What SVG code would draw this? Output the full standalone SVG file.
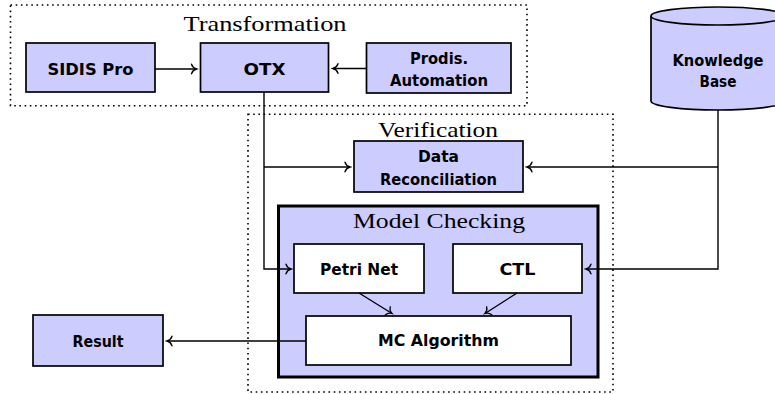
<svg xmlns="http://www.w3.org/2000/svg" width="775" height="394" viewBox="0 0 775 394">
<defs>
<style>
.grp{fill:none;stroke:#000;stroke-width:1.6;stroke-dasharray:1.6 3.6}
.node{fill:#ccccff;stroke:#000;stroke-width:1.7}
.inner{fill:#ffffff;stroke:#000;stroke-width:1.7}
.mc{fill:#ccccff;stroke:#000;stroke-width:3}
.lbl{font-family:"DejaVu Sans",sans-serif;font-weight:bold;font-size:16px;fill:#000;text-anchor:middle}
.ttl{font-family:"Liberation Serif","Times New Roman",serif;font-size:22px;fill:#000;text-anchor:middle}
.edge{fill:none;stroke:#000;stroke-width:1.4}
</style>
<marker id="arr" viewBox="-7 -6 9 12" refX="0" refY="0" markerWidth="9" markerHeight="12" markerUnits="userSpaceOnUse" orient="auto">
<path d="M -5 -4.8 C -4 -1.8 -1.5 -0.4 0 0 C -1.5 0.4 -4 1.8 -5 4.8" fill="none" stroke="#000" stroke-width="1.3" stroke-linecap="round"/>
</marker>
</defs>
<rect width="775" height="394" fill="#ffffff"/>

<g id="transformation">
<rect class="grp" x="10.5" y="5" width="516.5" height="100.7"/>
<text class="ttl" x="265" y="30.5" textLength="163" lengthAdjust="spacingAndGlyphs">Transformation</text>
</g>

<g id="verification">
<rect class="grp" x="248" y="114.3" width="365" height="277.7"/>
<text class="ttl" x="438" y="137" textLength="120" lengthAdjust="spacingAndGlyphs">Verification</text>
</g>

<g id="sidis">
<rect class="node" x="26" y="43" width="129" height="49"/>
<text class="lbl" x="90.5" y="75" textLength="86" lengthAdjust="spacingAndGlyphs">SIDIS Pro</text>
</g>

<g id="otx">
<rect class="node" x="200.5" y="43" width="128" height="49"/>
<text class="lbl" x="264.5" y="75" textLength="42" lengthAdjust="spacingAndGlyphs">OTX</text>
</g>

<g id="prodis">
<rect class="node" x="366.5" y="43" width="144.5" height="50"/>
<text class="lbl" x="439" y="63.5" textLength="58" lengthAdjust="spacingAndGlyphs">Prodis.</text>
<text class="lbl" x="439" y="85.5" textLength="98" lengthAdjust="spacingAndGlyphs">Automation</text>
</g>

<g id="knowledge">
<path class="node" d="M 651 16 L 651 101 A 67 9 0 0 0 785 101 L 785 16 A 67 9 0 0 0 651 16 Z"/>
<path d="M 651 16 A 67 9 0 0 0 785 16" fill="none" stroke="#000" stroke-width="1.7"/>
<text class="lbl" x="718" y="65.5" textLength="91" lengthAdjust="spacingAndGlyphs">Knowledge</text>
<text class="lbl" x="718" y="86.5" textLength="37" lengthAdjust="spacingAndGlyphs">Base</text>
</g>

<g id="datarec">
<rect class="node" x="354" y="141" width="169" height="51"/>
<text class="lbl" x="438.5" y="162" textLength="41" lengthAdjust="spacingAndGlyphs">Data</text>
<text class="lbl" x="438.5" y="184.5" textLength="117" lengthAdjust="spacingAndGlyphs">Reconciliation</text>
</g>

<g id="modelchecking">
<rect class="mc" x="278.5" y="206" width="319.5" height="171"/>
<text class="ttl" x="439" y="228" textLength="172" lengthAdjust="spacingAndGlyphs">Model Checking</text>
</g>

<g id="petrinet">
<rect class="inner" x="294" y="244" width="130" height="49"/>
<text class="lbl" x="359" y="274.5" textLength="78" lengthAdjust="spacingAndGlyphs">Petri Net</text>
</g>

<g id="ctl">
<rect class="inner" x="453" y="244" width="129" height="49"/>
<text class="lbl" x="517.5" y="274.5" textLength="36" lengthAdjust="spacingAndGlyphs">CTL</text>
</g>

<g id="mcalgorithm">
<rect class="inner" x="306" y="316" width="265" height="49"/>
<text class="lbl" x="438.5" y="346" textLength="121" lengthAdjust="spacingAndGlyphs">MC Algorithm</text>
</g>

<g id="result">
<rect class="node" x="33" y="315" width="130" height="51"/>
<text class="lbl" x="98" y="347" textLength="51" lengthAdjust="spacingAndGlyphs">Result</text>
</g>

<g id="connectors">
<path class="edge" d="M 155 69 L 196.5 69" marker-end="url(#arr)"/>
<path class="edge" d="M 366.5 68.5 L 333 68.5" marker-end="url(#arr)"/>
<path class="edge" d="M 264 92 L 264 269 L 291 269" marker-end="url(#arr)"/>
<path class="edge" d="M 264 167 L 350 167" marker-end="url(#arr)"/>
<path class="edge" d="M 718 110 L 718 269 L 586 269" marker-end="url(#arr)"/>
<path class="edge" d="M 718 167 L 527 167" marker-end="url(#arr)"/>
<path class="edge" d="M 359 293 L 392 313.5" marker-end="url(#arr)"/>
<path class="edge" d="M 517 293 L 485 313.5" marker-end="url(#arr)"/>
<path class="edge" d="M 306 341 L 167 341" marker-end="url(#arr)"/>
</g>
</svg>
